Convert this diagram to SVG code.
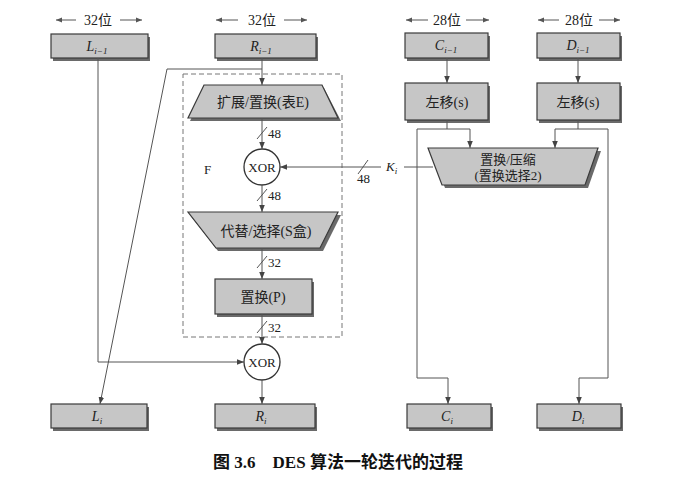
<svg xmlns="http://www.w3.org/2000/svg" width="684" height="482" viewBox="0 0 684 482">
<defs>
<marker id="ah" viewBox="0 0 10 10" refX="10" refY="5" markerWidth="7" markerHeight="7" markerUnits="userSpaceOnUse" orient="auto">
<path d="M0,1 L10,5 L0,9 Z" fill="#444"/>
</marker>
<marker id="ah2" viewBox="0 0 10 10" refX="10" refY="5" markerWidth="8" markerHeight="6" markerUnits="userSpaceOnUse" orient="auto">
<path d="M0,1 L10,5 L0,9 Z" fill="#555"/>
</marker>
</defs>
<style>
.box{fill:#c6c6c6;stroke:#3a3a3a;stroke-width:1.2}
.sh{fill:#6a6a6a}
.ln{fill:none;stroke:#555;stroke-width:1}
.t{font-family:"Liberation Serif","Noto Sans CJK SC",serif;font-size:14px;fill:#222;text-anchor:middle}
.it{font-style:italic}
.sub{font-size:9px}
.lbl{font-family:"Liberation Serif","Noto Sans CJK SC",serif;font-size:13px;fill:#222}
.dash{fill:none;stroke:#777;stroke-width:1;stroke-dasharray:5,3}
.circ{fill:#fff;stroke:#333;stroke-width:1.3}
</style>
<rect width="684" height="482" fill="#fff"/>

<g id="widths">
<g class="ln"><line x1="76" y1="20" x2="56" y2="20" marker-end="url(#ah2)"/><line x1="120" y1="20" x2="142" y2="20" marker-end="url(#ah2)"/>
<line x1="238" y1="20" x2="216" y2="20" marker-end="url(#ah2)"/><line x1="284" y1="20" x2="307" y2="20" marker-end="url(#ah2)"/>
<line x1="428" y1="20" x2="406" y2="20" marker-end="url(#ah2)"/><line x1="466" y1="20" x2="489" y2="20" marker-end="url(#ah2)"/>
<line x1="559" y1="20" x2="538" y2="20" marker-end="url(#ah2)"/><line x1="599" y1="20" x2="620" y2="20" marker-end="url(#ah2)"/></g>
<text class="t" x="98" y="25">32位</text>
<text class="t" x="262" y="25">32位</text>
<text class="t" x="447" y="25">28位</text>
<text class="t" x="579" y="25">28位</text>
</g>

<g id="Lprev"><rect class="sh" x="53" y="37" width="97" height="24"/><rect class="box" x="51" y="34" width="97" height="24"/><text class="t it" x="97" y="51">L<tspan class="sub" dy="3">i−1</tspan></text></g>
<g id="Rprev"><rect class="sh" x="217" y="37" width="101" height="24"/><rect class="box" x="215" y="34" width="101" height="24"/><text class="t it" x="261" y="51">R<tspan class="sub" dy="3">i−1</tspan></text></g>
<g id="Cprev"><rect class="sh" x="407" y="36" width="83" height="25"/><rect class="box" x="405" y="33" width="83" height="25"/><text class="t it" x="446" y="50">C<tspan class="sub" dy="3">i−1</tspan></text></g>
<g id="Dprev"><rect class="sh" x="539" y="36" width="83" height="25"/><rect class="box" x="537" y="33" width="83" height="25"/><text class="t it" x="578" y="50">D<tspan class="sub" dy="3">i−1</tspan></text></g>

<g id="shiftC"><rect class="sh" x="407" y="86" width="83" height="37"/><rect class="box" x="405" y="83" width="83" height="37"/><text class="t" x="447" y="107">左移(s)</text></g>
<g id="shiftD"><rect class="sh" x="539" y="86" width="83" height="37"/><rect class="box" x="537" y="83" width="83" height="37"/><text class="t" x="578" y="107">左移(s)</text></g>

<g id="F">
<rect class="dash" x="183" y="74" width="159" height="263"/>
<text class="lbl" x="204" y="174">F</text>
</g>

<g id="expE"><polygon class="sh" points="206,88 324,88 341,121 190,121"/><polygon class="box" points="204,85 322,85 338,118 188,118"/><text class="t" x="263" y="107">扩展/置换(表E)</text></g>
<g id="xor1"><circle class="circ" cx="262" cy="167" r="18"/><text class="t" x="262" y="172" style="font-size:13px">XOR</text></g>
<g id="sbox"><polygon class="sh" points="190,215 341,215 323,251 218,251"/><polygon class="box" points="188,212 338,212 320,248 216,248"/><text class="t" x="266" y="236">代替/选择(S盒)</text></g>
<g id="permP"><rect class="sh" x="217" y="282" width="97" height="35"/><rect class="box" x="215" y="279" width="97" height="35"/><text class="t" x="263" y="302">置换(P)</text></g>
<g id="xor2"><circle class="circ" cx="262" cy="362" r="18"/><text class="t" x="262" y="367" style="font-size:13px">XOR</text></g>
<g id="pc2"><polygon class="sh" points="431,151 601,151 588,188 445,188"/><polygon class="box" points="428,148 598,148 585,185 442,185"/><text class="t" x="508" y="164" style="font-size:13px">置换/压缩</text><text class="t" x="508" y="180" style="font-size:13px">(置换选择2)</text></g>

<g id="Lcur"><rect class="sh" x="53" y="407" width="96" height="24"/><rect class="box" x="51" y="404" width="96" height="24"/><text class="t it" x="97" y="421">L<tspan class="sub" dy="3">i</tspan></text></g>
<g id="Rcur"><rect class="sh" x="217" y="407" width="100" height="24"/><rect class="box" x="215" y="404" width="100" height="24"/><text class="t it" x="261" y="421">R<tspan class="sub" dy="3">i</tspan></text></g>
<g id="Ccur"><rect class="sh" x="409" y="407" width="84" height="24"/><rect class="box" x="407" y="404" width="84" height="24"/><text class="t it" x="447" y="421">C<tspan class="sub" dy="3">i</tspan></text></g>
<g id="Dcur"><rect class="sh" x="539" y="407" width="84" height="24"/><rect class="box" x="537" y="404" width="84" height="24"/><text class="t it" x="578" y="421">D<tspan class="sub" dy="3">i</tspan></text></g>

<g id="connectors" class="ln">
<line x1="262" y1="58" x2="262" y2="85" marker-end="url(#ah)"/>
<polyline points="262,69 167,69 100,404" marker-end="url(#ah)"/>
<polyline points="98,58 98,362 244,362" marker-end="url(#ah)"/>
<line x1="262" y1="118" x2="262" y2="149" marker-end="url(#ah)"/>
<line x1="262" y1="185" x2="262" y2="212" marker-end="url(#ah)"/>
<line x1="262" y1="248" x2="262" y2="279" marker-end="url(#ah)"/>
<line x1="262" y1="314" x2="262" y2="344" marker-end="url(#ah)"/>
<line x1="262" y1="380" x2="262" y2="404" marker-end="url(#ah)"/>
<line x1="447" y1="58" x2="447" y2="83" marker-end="url(#ah)"/>
<line x1="578" y1="58" x2="578" y2="83" marker-end="url(#ah)"/>
<polyline points="447,120 447,129"/>
<polyline points="417,129 470,129 470,148" marker-end="url(#ah)"/>
<polyline points="417,129 417,378 448,378 448,404" marker-end="url(#ah)"/>
<polyline points="578,120 578,129"/>
<polyline points="608,129 555,129 555,148" marker-end="url(#ah)"/>
<polyline points="608,129 608,378 579,378 579,404" marker-end="url(#ah)"/>
<line x1="433" y1="167" x2="404" y2="167"/>
<line x1="381" y1="167" x2="280" y2="167" marker-end="url(#ah)"/>
<line x1="358" y1="174" x2="368" y2="160"/>
<line x1="257" y1="139" x2="267" y2="127"/>
<line x1="257" y1="201" x2="267" y2="189"/>
<line x1="257" y1="268" x2="267" y2="256"/>
<line x1="257" y1="333" x2="267" y2="321"/>
</g>
<g id="labels">
<text class="lbl" x="268" y="138">48</text>
<text class="lbl" x="268" y="200">48</text>
<text class="lbl" x="268" y="267">32</text>
<text class="lbl" x="268" y="332">32</text>
<text class="lbl" x="357" y="183">48</text>
<text class="lbl it" x="386" y="171">K<tspan class="sub" dy="3">i</tspan></text>
</g>
<text x="338" y="468" style="font-family:'Liberation Serif','Noto Sans CJK SC',serif;font-size:17px;font-weight:bold;fill:#111;text-anchor:middle" xml:space="preserve">图 3.6    DES 算法一轮迭代的过程</text>
</svg>
